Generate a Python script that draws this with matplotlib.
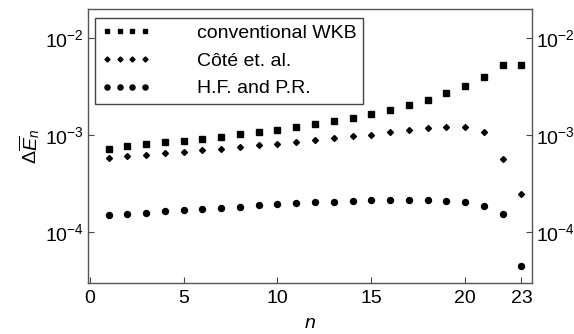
import matplotlib
matplotlib.use("Agg")
import matplotlib.pyplot as plt
import numpy as np

plt.rcParams['font.family'] = ['Liberation Sans', 'DejaVu Sans']
plt.rcParams['mathtext.fontset'] = 'custom'
plt.rcParams['mathtext.rm'] = 'Liberation Sans'
plt.rcParams['mathtext.it'] = 'Liberation Sans:italic'
plt.rcParams['mathtext.bf'] = 'Liberation Sans:bold'

n = list(range(1, 24))
wkb = [7.3e-4, 7.76e-4, 8.07e-4, 8.47e-4, 8.67e-4, 9.1e-4, 9.53e-4, 1.024e-3,
       1.074e-3, 1.126e-3, 1.218e-3, 1.30e-3, 1.394e-3, 1.497e-3, 1.646e-3,
       1.81e-3, 2.04e-3, 2.30e-3, 2.71e-3, 3.2e-3, 3.96e-3, 5.27e-3, 5.27e-3]
cote = [5.89e-4, 6.08e-4, 6.22e-4, 6.52e-4, 6.68e-4, 7.0e-4, 7.17e-4, 7.52e-4,
        7.89e-4, 8.13e-4, 8.47e-4, 8.88e-4, 9.31e-4, 9.76e-4, 1.017e-3,
        1.074e-3, 1.126e-3, 1.181e-3, 1.21e-3, 1.21e-3, 1.074e-3, 5.66e-4, 2.47e-4]
hfpr = [1.507e-4, 1.54e-4, 1.58e-4, 1.66e-4, 1.70e-4, 1.74e-4, 1.78e-4, 1.82e-4,
        1.91e-4, 1.96e-4, 2.0e-4, 2.05e-4, 2.05e-4, 2.10e-4, 2.15e-4,
        2.15e-4, 2.15e-4, 2.15e-4, 2.10e-4, 2.05e-4, 1.87e-4, 1.555e-4, 4.53e-5]
labels = ['conventional WKB', 'Côté et. al.', 'H.F. and P.R.']
xticks = [0, 5, 10, 15, 20, 23]

fig = plt.figure(figsize=(5.74, 3.34), dpi=100)
ax = fig.add_axes([0.1533, 0.1527, 0.9263 - 0.1533, 0.973 - 0.1527])

ax.plot(n, wkb, ls='none', marker='s', ms=3.8, color='black', label=labels[0])
ax.plot(n, cote, ls='none', marker='D', ms=3.0, color='black', label=labels[1])
ax.plot(n, hfpr, ls='none', marker='o', ms=4.3, color='black', label=labels[2])

ax.set_yscale('log')
ax.set_xlim(-0.1, 23.55)
ax.set_ylim(10**-4.523, 10**-1.698)
ax.set_xticks(xticks)
ax.set_xticklabels([str(t) for t in xticks])
ax.yaxis.set_minor_locator(matplotlib.ticker.NullLocator())

fs = 14
ax.tick_params(axis='both', which='major', direction='in', length=4, width=0.8,
               labelsize=fs, color='#444444')
ax.tick_params(axis='x', pad=5)
ax.tick_params(axis='y', pad=3, right=True, labelright=True)
for s in ax.spines.values():
    s.set_color('#555555')
    s.set_linewidth(1.0)

ax.set_xlabel(r'$n$', fontsize=fs, labelpad=6)
ax.set_ylabel(r'$\Delta\overline{E}_n$', fontsize=fs, labelpad=2)

leg = ax.legend(loc='upper left', bbox_to_anchor=(0.0158, 0.967), numpoints=4,
                handlelength=2.56, handletextpad=2.37, fontsize=fs, frameon=True,
                fancybox=False, framealpha=1, edgecolor='#444444', markerscale=0.85,
                borderpad=0.32, labelspacing=0.52, borderaxespad=0.0)
leg.get_frame().set_linewidth(1.0)

fig.savefig('out.png', dpi=100)
